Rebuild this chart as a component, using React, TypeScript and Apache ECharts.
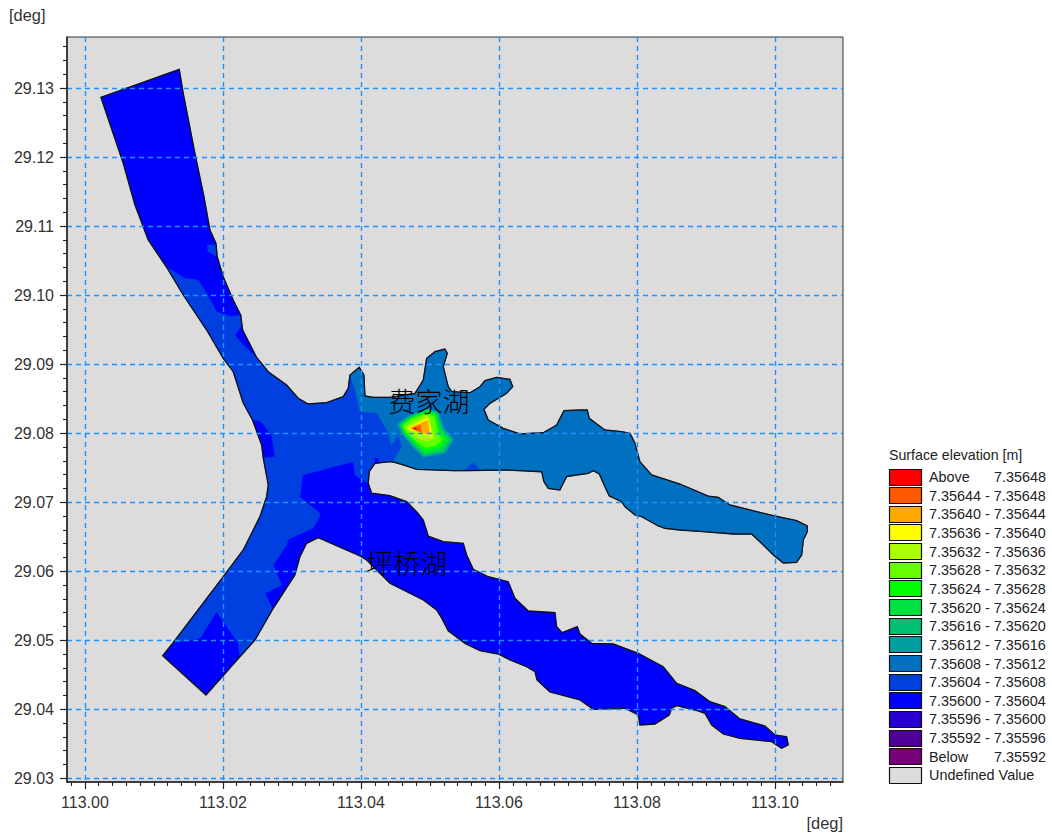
import React, { useEffect, useRef } from "react";
import * as echarts from "echarts";

type P = [number, number];

const xMajor = [113.0, 113.02, 113.04, 113.06, 113.08, 113.1];
const xMinor = [112.998, 113.002, 113.004, 113.006, 113.008, 113.01, 113.012, 113.014, 113.016, 113.018, 113.022, 113.024, 113.026, 113.028, 113.03, 113.032, 113.034, 113.036, 113.038, 113.042, 113.044, 113.046, 113.048, 113.05, 113.052, 113.054, 113.056, 113.058, 113.062, 113.064, 113.066, 113.068, 113.07, 113.072, 113.074, 113.076, 113.078, 113.082, 113.084, 113.086, 113.088, 113.09, 113.092, 113.094, 113.096, 113.098, 113.102, 113.104, 113.106, 113.108];
const yMajor = [29.03, 29.04, 29.05, 29.06, 29.07, 29.08, 29.09, 29.1, 29.11, 29.12, 29.13];
const yMinor = [29.032, 29.034, 29.036, 29.038, 29.042, 29.044, 29.046, 29.048, 29.052, 29.054, 29.056, 29.058, 29.062, 29.064, 29.066, 29.068, 29.072, 29.074, 29.076, 29.078, 29.082, 29.084, 29.086, 29.088, 29.092, 29.094, 29.096, 29.098, 29.102, 29.104, 29.106, 29.108, 29.112, 29.114, 29.116, 29.118, 29.122, 29.124, 29.126, 29.128, 29.132, 29.134, 29.136];

const legendTitle = "Surface elevation [m]";
const legendRows = [
  { label: "Above", value: "7.35648", color: "#FF0000" },
  { label: "7.35644 - 7.35648", value: "", color: "#FF5A00" },
  { label: "7.35640 - 7.35644", value: "", color: "#FFA800" },
  { label: "7.35636 - 7.35640", value: "", color: "#FFFF00" },
  { label: "7.35632 - 7.35636", value: "", color: "#AAFF00" },
  { label: "7.35628 - 7.35632", value: "", color: "#66FF00" },
  { label: "7.35624 - 7.35628", value: "", color: "#00FF00" },
  { label: "7.35620 - 7.35624", value: "", color: "#00E040" },
  { label: "7.35616 - 7.35620", value: "", color: "#00C070" },
  { label: "7.35612 - 7.35616", value: "", color: "#00A0A0" },
  { label: "7.35608 - 7.35612", value: "", color: "#0070C0" },
  { label: "7.35604 - 7.35608", value: "", color: "#0040E0" },
  { label: "7.35600 - 7.35604", value: "", color: "#0000FF" },
  { label: "7.35596 - 7.35600", value: "", color: "#2800D0" },
  { label: "7.35592 - 7.35596", value: "", color: "#500098" },
  { label: "Below", value: "7.35592", color: "#780078" },
  { label: "Undefined Value", value: "", color: "#DCDCDC" },
];

const segA: P[] = [[113.00232, 29.12865], [113.01367, 29.13271], [113.01425, 29.12923], [113.01594, 29.12054], [113.01725, 29.11425], [113.01812, 29.10943], [113.01899, 29.1075], [113.01917, 29.10556], [113.02004, 29.10266], [113.02149, 29.09929], [113.02257, 29.09712]];
const segB1: P[] = [[113.02286, 29.09494], [113.02488, 29.09096]];
const segB2: P[] = [[113.02657, 29.0889], [113.02923, 29.08697], [113.03091, 29.08505], [113.03236, 29.08422], [113.03503, 29.08441], [113.03743, 29.08528], [113.03816, 29.0865], [113.03841, 29.08842]];
const segC: P[] = [[113.03975, 29.08954], [113.04043, 29.08842], [113.04058, 29.08538], [113.04178, 29.08519], [113.0442, 29.08519], [113.04783, 29.08577], [113.04903, 29.0877], [113.04952, 29.09084], [113.05073, 29.0918], [113.05217, 29.09219], [113.05251, 29.09157], [113.05193, 29.08962], [113.05265, 29.08673], [113.05315, 29.086], [113.0558, 29.08586], [113.05725, 29.08673], [113.05797, 29.0876], [113.05967, 29.08809], [113.06159, 29.0878], [113.06199, 29.08673], [113.06112, 29.08577], [113.0587, 29.08432], [113.05783, 29.08345], [113.05845, 29.0819], [113.06062, 29.0807], [113.06304, 29.07988], [113.06642, 29.08006], [113.06836, 29.08118], [113.06942, 29.08325], [113.07174, 29.08335], [113.0728, 29.08335], [113.07309, 29.08215], [113.07536, 29.08046], [113.07778, 29.08021], [113.07899, 29.07998], [113.07971, 29.07853], [113.08043, 29.07586], [113.08213, 29.07394], [113.08623, 29.07263], [113.09033, 29.07089], [113.09178, 29.07071], [113.09348, 29.06959], [113.09976, 29.06804], [113.10315, 29.06732], [113.10469, 29.06655], [113.10469, 29.06572], [113.10411, 29.06452], [113.10387, 29.06235], [113.10315, 29.06129], [113.1012, 29.06119], [113.09976, 29.06235], [113.0983, 29.0638], [113.09662, 29.06539], [113.09396, 29.06539], [113.08961, 29.06572], [113.08623, 29.06597], [113.08406, 29.06621], [113.08309, 29.06655], [113.08068, 29.0679], [113.07971, 29.06814], [113.07826, 29.06934], [113.07778, 29.07007], [113.07599, 29.07089], [113.07536, 29.07224], [113.07454, 29.07408], [113.07367, 29.07456], [113.07294, 29.07418], [113.07029, 29.07379], [113.06981, 29.07369], [113.06932, 29.07273], [113.06884, 29.07176], [113.06715, 29.07201], [113.06652, 29.07297], [113.06619, 29.07441], [113.06112, 29.07466], [113.05532, 29.07456], [113.05338, 29.07456], [113.04807, 29.07476], [113.04613, 29.07539], [113.04464, 29.07582]];
const segD: P[] = [[113.0442, 29.07586], [113.04203, 29.07563], [113.0412, 29.07441], [113.04106, 29.07273]];
const segF: P[] = [[113.04155, 29.07129], [113.0442, 29.07094], [113.04662, 29.07007], [113.04807, 29.06862], [113.04903, 29.06742], [113.04975, 29.0651], [113.05193, 29.06427], [113.05483, 29.06404], [113.05532, 29.06235], [113.05628, 29.06028], [113.05845, 29.0592], [113.06135, 29.05848], [113.06232, 29.05607], [113.06425, 29.05423], [113.06812, 29.05399], [113.06836, 29.05196], [113.06917, 29.05109], [113.07135, 29.05196], [113.07174, 29.0509], [113.07344, 29.04955], [113.07657, 29.04945], [113.08019, 29.04811], [113.08381, 29.04616], [113.08575, 29.04376], [113.08841, 29.04269], [113.09058, 29.04109], [113.09275, 29.04037], [113.09493, 29.03859], [113.09855, 29.03757], [113.1, 29.03627], [113.1017, 29.03602], [113.10193, 29.03482], [113.10097, 29.03434], [113.09952, 29.0353], [113.09493, 29.03579], [113.09251, 29.03641], [113.09083, 29.03772], [113.08986, 29.03941], [113.08841, 29.03989], [113.08575, 29.04051], [113.08503, 29.04014], [113.08468, 29.03917], [113.08261, 29.03786], [113.08043, 29.03772], [113.08019, 29.03917], [113.07826, 29.04014], [113.07367, 29.03999], [113.07174, 29.04134], [113.06739, 29.0425], [113.06551, 29.04424], [113.06522, 29.04544], [113.06401, 29.04616], [113.06159, 29.04713], [113.0599, 29.048], [113.05725, 29.04848], [113.05507, 29.04955], [113.05265, 29.05138], [113.0517, 29.05318], [113.05097, 29.05438], [113.04903, 29.05583], [113.0442, 29.05825], [113.04228, 29.06017], [113.04083, 29.06162], [113.03986, 29.0622], [113.03381, 29.06485], [113.03213, 29.06404], [113.03116, 29.0621], [113.03043, 29.05945], [113.0272, 29.05448]];
const segG: P[] = [[113.02464, 29.05003], [113.02246, 29.04761]];
const segH1: P[] = [[113.01754, 29.04206], [113.01126, 29.04776]];
const segH2: P[] = [[113.01275, 29.0496]];
const segI: P[] = [[113.02004, 29.0592], [113.02294, 29.06307], [113.02536, 29.0679], [113.02633, 29.07079], [113.02657, 29.07249], [113.02584, 29.0764]];
const segJ1: P[] = [[113.02561, 29.07828]];
const segJ2: P[] = [[113.02428, 29.0819]];
const segK: P[] = [[113.02294, 29.08437], [113.02149, 29.0889], [113.02004, 29.09084], [113.01764, 29.09494], [113.01425, 29.10001], [113.01184, 29.10403]];
const segL: P[] = [[113.00917, 29.10798], [113.00725, 29.11305], [113.00555, 29.11909]];

const innerNorth: P[] = [[113.01449, 29.10243], [113.01642, 29.10219], [113.01764, 29.10026], [113.01909, 29.09759], [113.02126, 29.09687], [113.02257, 29.09712], [113.02268, 29.09552], [113.02174, 29.09422], [113.02294, 29.09277], [113.02488, 29.09096]];
const innerTeal: P[] = [[113.0459, 29.07804], [113.04541, 29.07973], [113.04445, 29.07828], [113.04373, 29.08046], [113.04228, 29.08292], [113.03986, 29.08311], [113.03913, 29.08625]];
const innerJunction: P[] = [[113.03913, 29.07394], [113.03888, 29.07586], [113.03155, 29.07394], [113.03116, 29.07079], [113.03416, 29.06829], [113.03309, 29.06621], [113.02946, 29.06462], [113.02923, 29.0638], [113.02729, 29.0609], [113.02851, 29.058], [113.02609, 29.0568], [113.0272, 29.05448]];
const innerTip: P[] = [[113.02222, 29.04955], [113.01909, 29.05413], [113.01667, 29.05028], [113.01275, 29.0496]];
const innerWest: P[] = [[113.02754, 29.07659], [113.02706, 29.07973], [113.02536, 29.0818]];

const northPatch: P[] = [[113.01768, 29.10726], [113.01901, 29.10726], [113.01917, 29.10556], [113.01787, 29.10629]];
const eastPatch: P[] = [[113.05507, 29.07459], [113.05628, 29.07572], [113.05715, 29.07472]];
const smallPatch: P[] = [[113.04203, 29.07635], [113.04251, 29.07635], [113.04251, 29.07567], [113.04203, 29.07563]];

const hot1216: P[] = [[113.04526, 29.08132], [113.04686, 29.08248], [113.04952, 29.0836], [113.0512, 29.08311], [113.05203, 29.0807], [113.05348, 29.07911], [113.05217, 29.07708], [113.04903, 29.0765], [113.04749, 29.07804], [113.04604, 29.07973]];
const hot1620: P[] = [[113.04551, 29.08125], [113.04696, 29.08234], [113.04952, 29.08342], [113.05106, 29.08296], [113.05184, 29.0806], [113.05319, 29.07908], [113.05203, 29.07727], [113.04913, 29.07669], [113.04764, 29.07818], [113.04619, 29.0798]];
const hot2024: P[] = [[113.04572, 29.08118], [113.0471, 29.08227], [113.04952, 29.08328], [113.05094, 29.08285], [113.05164, 29.08046], [113.05283, 29.07908], [113.05181, 29.07756], [113.04928, 29.07698], [113.04778, 29.07833], [113.04633, 29.07988]];
const hot2428: P[] = [[113.04594, 29.08111], [113.04725, 29.08219], [113.04952, 29.08306], [113.0508, 29.08263], [113.05138, 29.08031], [113.05232, 29.07908], [113.05145, 29.07792], [113.04935, 29.07741], [113.04797, 29.0785], [113.04652, 29.07995]];
const hot2832: P[] = [[113.04609, 29.08103], [113.04739, 29.08205], [113.04957, 29.08285], [113.05065, 29.08234], [113.05109, 29.08002], [113.05174, 29.07908], [113.05101, 29.07828], [113.04942, 29.07792], [113.04812, 29.07872], [113.04667, 29.08009]];
const hot3236: P[] = [[113.04638, 29.08082], [113.04964, 29.08263], [113.05062, 29.07925], [113.04971, 29.07886], [113.04812, 29.0793]];
const hot3640: P[] = [[113.04677, 29.0807], [113.04975, 29.08224], [113.05033, 29.07948]];
const hot4044: P[] = [[113.0471, 29.08074], [113.04971, 29.0819], [113.05, 29.07973]];
const hot4448: P[] = [[113.04739, 29.08067], [113.04855, 29.08118], [113.0488, 29.08002]];
const hotAbove: P[] = [[113.04754, 29.08067], [113.04797, 29.08085], [113.04804, 29.08046]];

const lakeOutline: P[] = [...segA, ...segB1, ...segB2, ...segC, ...segD, ...segF, ...segG, ...segH1, ...segH2, ...segI, ...segJ1, ...segJ2, ...segK, ...segL];
const zone0408: P[] = [...segK.slice(-1), ...innerNorth, ...segB2, ...[...innerTeal].reverse(), [113.04464, 29.07582], ...segD, ...innerJunction, ...segG, ...innerTip, ...segI, ...innerWest, ...segJ2, ...segK];
const zone0812: P[] = [segB2[segB2.length - 1], ...segC, ...innerTeal];

const C0 = "#0000FF", C4 = "#0040E0", C8 = "#0070C0";
const fills: { points: P[]; color: string }[] = [
  { points: lakeOutline, color: C0 },
  { points: zone0408, color: C4 },
  { points: northPatch, color: C4 },
  { points: zone0812, color: C8 },
  { points: eastPatch, color: C4 },
  { points: smallPatch, color: C0 },
  { points: hot1216, color: "#00A0A0" },
  { points: hot1620, color: "#00C070" },
  { points: hot2024, color: "#00E040" },
  { points: hot2428, color: "#00FF00" },
  { points: hot2832, color: "#66FF00" },
  { points: hot3236, color: "#AAFF00" },
  { points: hot3640, color: "#FFFF00" },
  { points: hot4044, color: "#FFA800" },
  { points: hot4448, color: "#FF5A00" },
  { points: hotAbove, color: "#FF0000" },
];

const lakeLabels: { name: string; lon: number; lat: number }[] = [
  { name: "费家湖", lon: 113.04985, lat: 29.0848 },
  { name: "坪桥湖", lon: 113.04665, lat: 29.0613 },
];

const axisFont = "'Liberation Sans', Arial, sans-serif";
const xMin = 112.9974, xMax = 113.10986, yMin = 29.02946, yMax = 29.13739;

export default function App() {
  const ref = useRef<HTMLDivElement>(null);
  useEffect(() => {
    document.body.style.margin = "0";
    const chart = echarts.init(ref.current!, undefined, { renderer: "svg" });
    const legendEls: any[] = [
      { type: "text", x: 889, y: 455, style: { text: legendTitle, fill: "#222", font: `14.2px ${axisFont}`, textVerticalAlign: "middle" } },
    ];
    legendRows.forEach((r, i) => {
      const top = 468.5 + i * 18.65;
      legendEls.push({ type: "rect", shape: { x: 889.5, y: Math.round(top) + 0.5, width: 32, height: 16 }, style: { fill: r.color, stroke: "#111", lineWidth: 1.2 } });
      legendEls.push({ type: "text", x: 929, y: top + 8.5, style: { text: r.label, fill: "#222", font: `14.4px ${axisFont}`, textVerticalAlign: "middle" } });
      if (r.value) legendEls.push({ type: "text", x: 1046, y: top + 8.5, style: { text: r.value, fill: "#222", font: `14.4px ${axisFont}`, textAlign: "right", textVerticalAlign: "middle" } });
    });
    legendEls.push({ type: "text", x: 9, y: 15, style: { text: "[deg]", fill: "#333", font: `16.4px ${axisFont}`, textVerticalAlign: "middle" } });
    legendEls.push({ type: "text", x: 843, y: 823, style: { text: "[deg]", fill: "#333", font: `16.4px ${axisFont}`, textAlign: "right", textVerticalAlign: "middle" } });

    const majorX = {
      type: "value", min: xMin, max: xMax, position: "bottom", z: 5,
      axisLine: { show: true, onZero: false, lineStyle: { color: "#222", width: 1.5 } },
      axisTick: { show: true, length: 7, customValues: xMajor, lineStyle: { color: "#222", width: 1.2 } },
      axisLabel: { show: true, customValues: xMajor, margin: 12, color: "#333", fontSize: 16, fontFamily: axisFont, formatter: (v: number) => v.toFixed(2) },
      splitLine: { show: true, lineStyle: { color: "#1E90FF", width: 1.4, type: [5, 4] } },
    };
    const minorX = {
      type: "value", min: xMin, max: xMax, position: "bottom", z: 5,
      axisLine: { show: false },
      axisTick: { show: true, length: 4, customValues: xMinor, lineStyle: { color: "#222", width: 1.1 } },
      axisLabel: { show: false },
      splitLine: { show: false },
    };
    const majorY = {
      type: "value", min: yMin, max: yMax, position: "left", z: 5,
      axisLine: { show: true, onZero: false, lineStyle: { color: "#222", width: 1.5 } },
      axisTick: { show: true, length: 7, customValues: yMajor, lineStyle: { color: "#222", width: 1.2 } },
      axisLabel: { show: true, customValues: yMajor, margin: 13, color: "#333", fontSize: 16, fontFamily: axisFont, formatter: (v: number) => v.toFixed(2) },
      splitLine: { show: true, lineStyle: { color: "#1E90FF", width: 1.4, type: [5, 4] } },
    };
    const minorY = {
      type: "value", min: yMin, max: yMax, position: "left", z: 5,
      axisLine: { show: false },
      axisTick: { show: true, length: 4, customValues: yMinor, lineStyle: { color: "#222", width: 1.1 } },
      axisLabel: { show: false },
      splitLine: { show: false },
    };

    chart.setOption({
      animation: false,
      grid: { left: 67, top: 37, width: 776, height: 745, show: true, backgroundColor: "#DCDCDC", borderColor: "#333", borderWidth: 1 },
      xAxis: [majorX, minorX],
      yAxis: [majorY, minorY],
      graphic: legendEls,
      series: [
        {
          type: "custom", z: 1, clip: true, silent: true, coordinateSystem: "cartesian2d",
          data: fills.map((f, i) => [f.points[0][0], f.points[0][1], i]),
          renderItem: (_: any, api: any) => {
            const f = fills[api.value(2)];
            return { type: "polygon", shape: { points: f.points.map((p) => api.coord(p)) }, style: { fill: f.color, stroke: f.color, lineWidth: 0.4 } };
          },
        },
        {
          type: "custom", z: 2, clip: true, silent: true, coordinateSystem: "cartesian2d",
          data: [[lakeOutline[0][0], lakeOutline[0][1]]],
          renderItem: (_: any, api: any) => ({ type: "polygon", shape: { points: lakeOutline.map((p) => api.coord(p)) }, style: { fill: "none", stroke: "#111", lineWidth: 1.3 } }),
        },
        {
          type: "custom", z: 8, clip: false, silent: true, coordinateSystem: "cartesian2d",
          data: lakeLabels.map((l, i) => [l.lon, l.lat, i]),
          renderItem: (_: any, api: any) => {
            const c = api.coord([api.value(0), api.value(1)]);
            return { type: "text", x: c[0], y: c[1], style: { text: lakeLabels[api.value(2)].name, fill: "#000", fontSize: 27, fontFamily: "'Noto Sans CJK SC'", fontWeight: 300, textAlign: "center", textVerticalAlign: "middle" } };
          },
        },
      ],
    });
    return () => chart.dispose();
  }, []);
  return <div ref={ref} style={{ position: "absolute", left: 0, top: 0, width: 1052, height: 836, background: "#fff" }} />;
}
